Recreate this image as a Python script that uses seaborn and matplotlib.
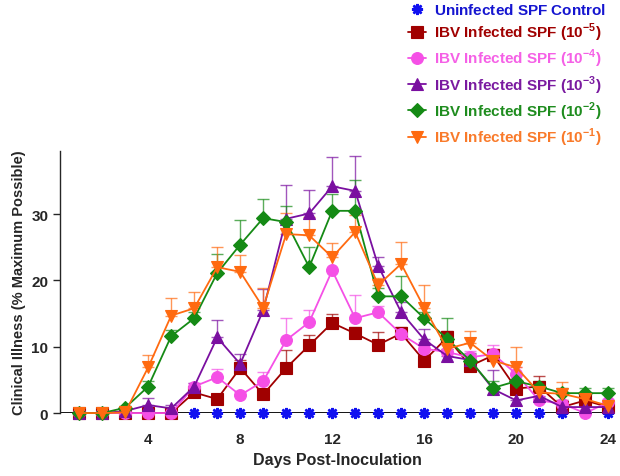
import numpy as np
import pandas as pd
import matplotlib
matplotlib.use("Agg")
import matplotlib.pyplot as plt
import seaborn as sns

# Data (days post-inoculation 1..24)
days = list(range(1, 25))

control = [0] * 24

dose_5 = [0, 0, 0, 0, 0, 3.1, 2.1, 6.8, 2.8, 6.8, 10.2, 13.6,
          12.0, 10.3, 12.0, 7.9, 11.4, 7.1, 8.7, 3.7, 4.0, 0.9, 1.9, 0.9]
dose_5_err = [0, 0, 0, 0, 0, 0.5, 0.5, 1.2, 0.5, 2.7, 1.6, 1.4,
              1.0, 1.9, 1.0, 1.0, 1.0, 1.0, 1.0, 1.0, 1.6, 1.0, 1.0, 0.5]

dose_4 = [0, 0, 0, 0, 0, 4.0, 5.4, 2.7, 4.8, 11.0, 13.7, 21.5,
          14.3, 15.2, 11.9, 9.7, 9.2, 8.4, 8.9, 5.9, 1.9, 1.4, 0, 1.6]
dose_4_err = [0, 0, 0, 0, 0, 0.5, 1.2, 0.5, 1.4, 3.4, 1.8, 2.5,
              3.5, 1.0, 1.0, 1.0, 1.0, 1.0, 1.4, 1.0, 0.5, 0.5, 0.5, 0.5]

dose_3 = [0, 0, 0.3, 1.2, 0.7, 4.0, 11.4, 7.4, 15.5, 29.3, 30.1, 34.2,
          33.5, 22.2, 15.2, 11.1, 8.6, 8.0, 3.6, 1.9, 2.6, 0.9, 0.9, 0.9]
dose_3_err = [0, 0, 0.3, 1.1, 0.5, 0.5, 2.7, 1.5, 3.2, 5.1, 3.6, 4.4,
              5.2, 1.3, 1.5, 1.6, 1.0, 1.0, 2.9, 1.0, 0.5, 0.5, 0.5, 0.5]

dose_2 = [0, 0, 0.8, 4.0, 11.6, 14.3, 21.1, 25.4, 29.4, 28.8, 22.0, 30.5,
          30.5, 17.6, 17.6, 14.3, 11.2, 7.9, 3.8, 4.8, 4.0, 3.0, 3.0, 3.0]
dose_2_err = [0, 0, 0.3, 0.8, 1.0, 1.0, 2.9, 3.7, 2.9, 2.4, 3.0, 2.5,
              4.6, 1.3, 3.0, 1.0, 3.1, 1.0, 1.0, 1.0, 0.8, 0.8, 0.8, 0.8]

dose_1 = [0, 0, 0.1, 6.9, 14.7, 15.8, 22.0, 21.3, 15.9, 27.0, 26.8, 23.5,
          27.3, 19.3, 22.5, 15.9, 9.7, 10.6, 7.9, 6.9, 3.1, 2.9, 2.1, 1.1]
dose_1_err = [0, 0, 0, 1.9, 2.6, 2.4, 3.0, 2.5, 2.9, 3.2, 2.8, 2.2,
              2.6, 1.0, 3.3, 3.4, 1.0, 1.7, 1.0, 3.1, 1.0, 1.8, 1.0, 0.5]

labels = [
    r"Uninfected SPF Control$^{\,}$",
    r"IBV Infected SPF (10$^{\mathbf{-5}}$)",
    r"IBV Infected SPF (10$^{\mathbf{-4}}$)",
    r"IBV Infected SPF (10$^{\mathbf{-3}}$)",
    r"IBV Infected SPF (10$^{\mathbf{-2}}$)",
    r"IBV Infected SPF (10$^{\mathbf{-1}}$)",
]

sns.set_style("ticks")
plt.rcParams['font.family'] = ['Liberation Sans', 'DejaVu Sans']
plt.rcParams['font.weight'] = 'bold'
plt.rcParams['mathtext.fontset'] = 'custom'
plt.rcParams['mathtext.rm'] = 'Liberation Sans:bold'
plt.rcParams['mathtext.bf'] = 'Liberation Sans:bold'

fig = plt.figure(figsize=(6.2, 4.77), dpi=100)
ax = fig.add_axes([0.097, 0.132, 0.895, 0.549])

series = [
    (control, None, "#1010F0", (8, 2, 0), 8, "#1515D0"),
    (dose_5, dose_5_err, "#A00000", "s", 8, "#A00000"),
    (dose_4, dose_4_err, "#F550E6", "o", 8.5, "#F560E6"),
    (dose_3, dose_3_err, "#7A0FA0", "^", 9, "#7A1AA0"),
    (dose_2, dose_2_err, "#158A15", "D", 7, "#1E8C1E"),
    (dose_1, dose_1_err, "#FF6A10", "v", 9, "#F97A2A"),
]

for (vals, err, color, marker, ms, _), label in zip(series, labels):
    if err is not None:
        ax.errorbar(days, vals, yerr=[np.zeros(len(err)), err], fmt="none",
                    ecolor=color, alpha=0.7, elinewidth=1.0, capsize=4,
                    capthick=1.0, clip_on=False, zorder=2)
    df = pd.DataFrame({"day": days, "val": vals})
    sns.lineplot(data=df, x="day", y="val", ax=ax, color=color, marker=marker,
                 markersize=ms, markeredgecolor=color,
                 markeredgewidth=1.8 if err is None else 0.8,
                 linewidth=0 if err is None else 1.3,
                 clip_on=False, zorder=3, label=label)

# control line sits on the axis
ax.axhline(0, color="black", linewidth=1.3, zorder=2.5)

ax.set_xlim(0.17, 24.3)
ax.set_ylim(0, 39.5)
ax.set_xticks([4, 8, 12, 16, 20, 24])
ax.set_yticks([0, 10, 20, 30])
ax.tick_params(axis="x", length=0, labelsize=11, pad=14)
ax.tick_params(axis="y", length=5, width=1.0, labelsize=11)
for t in ax.get_xticklabels() + ax.get_yticklabels():
    t.set_fontweight("bold")
ax.set_xlabel("Days Post-Inoculation", fontsize=11.5, fontweight="bold", labelpad=4)
ax.set_ylabel("Clinical Illness (% Maximum Possible)", fontsize=10.5, fontweight="bold", labelpad=4)
sns.despine(ax=ax)
ax.spines["bottom"].set_visible(False)
ax.spines["left"].set_linewidth(1.0)

handles, lbls = ax.get_legend_handles_labels()
ax.get_legend().remove()
leg = fig.legend(handles, lbls, loc="upper left", bbox_to_anchor=(0.636, 1.022),
                 frameon=False, fontsize=11, handlelength=1.2, handletextpad=0.5,
                 labelspacing=0.25)
for text, s in zip(leg.get_texts(), series):
    text.set_color(s[5])
    text.set_fontweight("bold")

fig.savefig("out.png", dpi=100)
